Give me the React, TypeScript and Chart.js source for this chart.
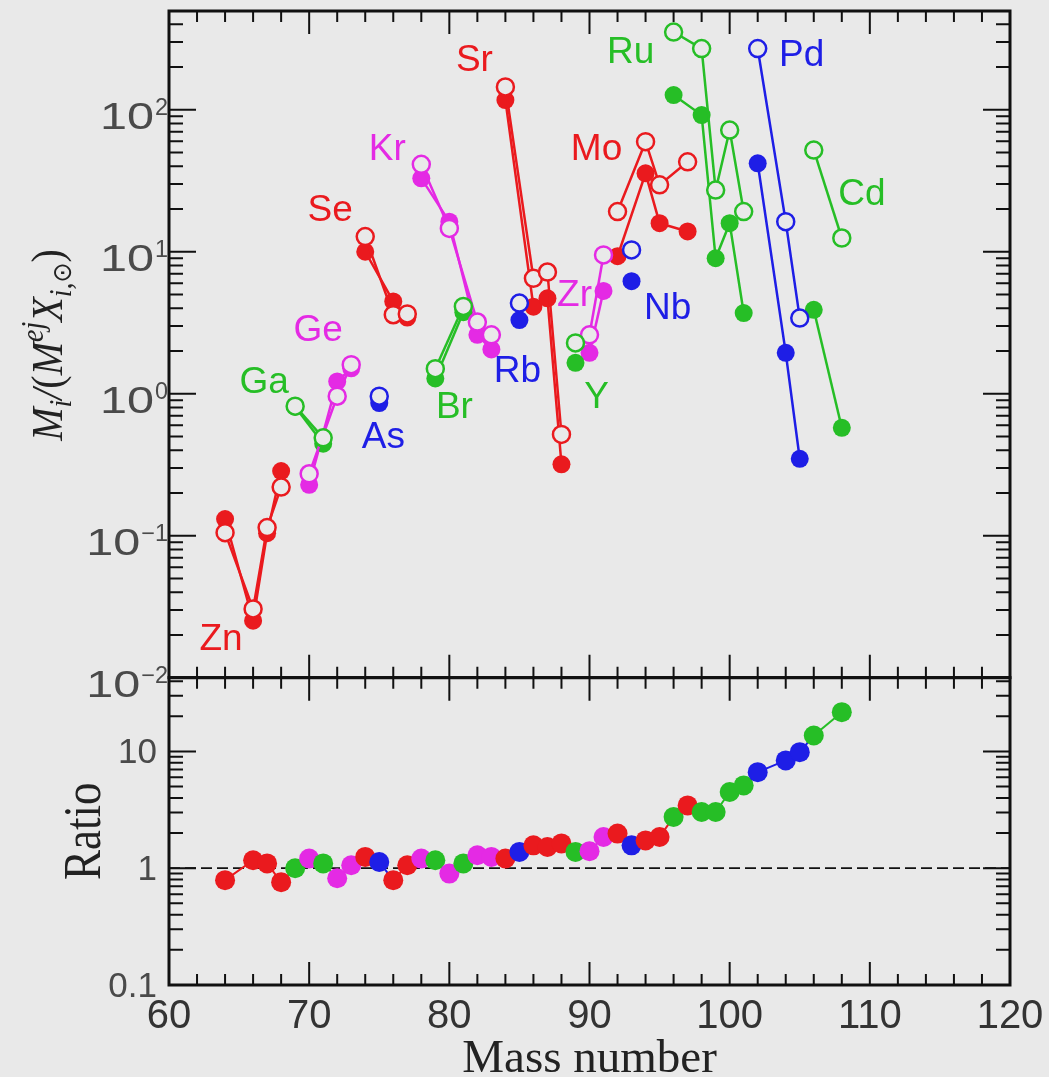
import React, { useEffect, useRef } from "react";
import { Chart, registerables } from "chart.js";

Chart.register(...registerables);

// ---------------- data ----------------
const ELEMENTS = ["Zn", "Ga", "Ge", "As", "Se", "Br", "Kr", "Rb", "Sr", "Y", "Zr", "Nb", "Mo", "Ru", "Pd", "Cd"];
const MASSES = [
  [64, 66, 67, 68], [69, 71], [70, 72, 73], [75], [74, 76, 77], [79, 81], [78, 80, 82, 83], [85],
  [84, 86, 87, 88], [89], [90, 91], [93], [92, 94, 95, 97], [96, 98, 99, 100, 101], [102, 104, 105], [106, 108],
];
const FILLED = [
  [0.131, 0.0252, 0.104, 0.285],
  [0.81, 0.445],
  [0.228, 1.22, 1.51],
  [0.86],
  [10.0, 4.47, 3.44],
  [1.28, 3.75],
  [32.9, 16.3, 2.6, 2.05],
  [3.3],
  [117, 4.1, 4.7, 0.318],
  [1.65],
  [1.94, 5.3],
  [6.2],
  [9.3, 35.7, 15.9, 13.9],
  [127, 91.8, 9.0, 15.9, 3.7],
  [42, 1.94, 0.348],
  [3.9, 0.575],
];
const OPEN = [
  [0.105, 0.0305, 0.114, 0.22],
  [0.817, 0.489],
  [0.273, 0.96, 1.6],
  [0.96],
  [12.8, 3.6, 3.65],
  [1.5, 4.12],
  [41.3, 14.6, 3.2, 2.6],
  [4.35],
  [145, 6.5, 7.2, 0.517],
  [2.28],
  [2.6, 9.5],
  [10.3],
  [19.2, 59.6, 29.6, 43],
  [353, 270, 27.2, 72, 19.2],
  [270, 16.3, 3.41],
  [52, 12.5],
];

const RATIO_MASS = [64, 66, 67, 68, 69, 70, 71, 72, 73, 74, 75, 76, 77, 78, 79, 80, 81, 82, 83, 84, 85, 86, 87, 88, 89, 90, 91, 92, 93, 94, 95, 96, 97, 98, 99, 100, 101, 102, 104, 105, 106, 108];
const RATIO_ELEMENT = ["Zn", "Zn", "Zn", "Zn", "Ga", "Ge", "Ga", "Ge", "Ge", "Se", "As", "Se", "Se", "Kr", "Br", "Kr", "Br", "Kr", "Kr", "Sr", "Rb", "Sr", "Sr", "Sr", "Y", "Zr", "Zr", "Mo", "Nb", "Mo", "Mo", "Ru", "Mo", "Ru", "Ru", "Ru", "Ru", "Pd", "Pd", "Pd", "Cd", "Cd"];
const RATIO_VALUE = [0.79, 1.17, 1.10, 0.76, 1.00, 1.21, 1.10, 0.82, 1.06, 1.25, 1.13, 0.79, 1.06, 1.21, 1.17, 0.90, 1.10, 1.29, 1.25, 1.21, 1.38, 1.57, 1.52, 1.63, 1.38, 1.40, 1.85, 1.98, 1.57, 1.73, 1.85, 2.75, 3.45, 3.03, 3.03, 4.49, 5.12, 6.65, 8.38, 9.86, 13.7, 21.7];

// tick labels
const X_TICKS = [60, 70, 80, 90, 100, 110, 120];
const TOP_EXPONENTS = [-2, -1, 0, 1, 2];
const RATIO_TICKS = [0.1, 1, 10];
const RATIO_TICK_LABELS = ["0.1", "1", "10"];
const X_TITLE = "Mass number";
const RATIO_TITLE = "Ratio";

// element label anchors (data coordinates)
const LABEL_MASS = [63.71, 66.79, 70.64, 75.29, 71.5, 80.36, 75.57, 84.86, 81.79, 90.5, 88.93, 95.57, 90.5, 92.93, 105.14, 109.43];
const LABEL_VALUE = [0.0185, 1.2, 2.79, 0.486, 19.5, 0.79, 52.3, 1.42, 221, 0.93, 4.92, 3.99, 52.3, 251, 240, 25.3];

// ---------------- styles ----------------
const BG = "#e9e9e9";
const RED = "#ea1a1e";
const GREEN = "#26be26";
const MAGENTA = "#e42ae4";
const BLUE = "#1e1ee6";
const COLOR: Record<string, string> = {
  Zn: RED, Ga: GREEN, Ge: MAGENTA, As: BLUE, Se: RED, Br: GREEN, Kr: MAGENTA, Rb: BLUE,
  Sr: RED, Y: GREEN, Zr: MAGENTA, Nb: BLUE, Mo: RED, Ru: GREEN, Pd: BLUE, Cd: GREEN,
};
const SANS = "'Liberation Sans', Arial, Helvetica, sans-serif";
const SERIF = "'Liberation Serif', 'Times New Roman', Times, serif";

function drawScaled(ctx: CanvasRenderingContext2D, text: string, x: number, y: number, font: string, sx: number, align: CanvasTextAlign = "left") {
  ctx.save();
  ctx.font = font;
  ctx.textAlign = align;
  ctx.textBaseline = "alphabetic";
  ctx.translate(x, y);
  ctx.scale(sx, 1);
  ctx.fillText(text, 0, 0);
  ctx.restore();
}

const figurePlugin = {
  id: "figure",
  beforeDraw(chart: any) {
    const { ctx, width, height } = chart;
    ctx.save();
    ctx.fillStyle = BG;
    ctx.fillRect(0, 0, width, height);
    ctx.restore();
  },
  beforeDatasetsDraw(chart: any) {
    const { ctx } = chart;
    const xs = chart.scales.x;
    const y2 = chart.scales.y2;
    const py = y2.getPixelForValue(1);
    ctx.save();
    ctx.strokeStyle = "#111";
    ctx.lineWidth = 1.8;
    ctx.setLineDash([11, 5]);
    ctx.beginPath();
    ctx.moveTo(xs.left, py);
    ctx.lineTo(xs.right, py);
    ctx.stroke();
    ctx.restore();
  },
  afterDraw(chart: any) {
    const { ctx } = chart;
    const xs = chart.scales.x;
    const panels = [chart.scales.y, chart.scales.y2];
    const left = xs.left;
    const right = xs.right;

    ctx.save();
    ctx.strokeStyle = "#111";
    // ticks
    ctx.lineWidth = 2;
    panels.forEach((s: any, pi: number) => {
      const top = s.top;
      const bot = s.bottom;
      ctx.beginPath();
      for (let v = 60; v <= 120; v += 2) {
        const px = xs.getPixelForValue(v);
        const len = v % 10 === 0 ? 23 : 11;
        ctx.moveTo(px, top);
        ctx.lineTo(px, top + len);
        ctx.moveTo(px, bot);
        ctx.lineTo(px, bot - len);
      }
      const lo = pi === 0 ? -2 : -1;
      const hi = pi === 0 ? 2 : 1;
      for (let d = lo; d <= hi; d++) {
        for (let k = 1; k <= 9; k++) {
          const v = k * Math.pow(10, d);
          if (v < s.min * 0.999 || v > s.max * 1.001) continue;
          const py = s.getPixelForValue(v);
          const len = k === 1 ? 27 : 14;
          ctx.moveTo(left, py);
          ctx.lineTo(left + len, py);
          ctx.moveTo(right, py);
          ctx.lineTo(right - len, py);
        }
      }
      ctx.stroke();
    });
    // frames
    ctx.lineWidth = 3;
    panels.forEach((s: any) => {
      ctx.strokeRect(left, s.top, right - left, s.bottom - s.top);
    });

    // top tick labels (powers of ten)
    const ys = chart.scales.y;
    ctx.fillStyle = "#4a4a4a";
    const baseFont = `36px ${SANS}`;
    const supFont = `23px ${SANS}`;
    TOP_EXPONENTS.forEach((e) => {
      const py = ys.getPixelForValue(Math.pow(10, e));
      const sup = e < 0 ? "\u2212" + String(-e) : String(e);
      ctx.font = baseFont;
      const wb = ctx.measureText("10").width * 1.35;
      ctx.font = supFont;
      const wsup = ctx.measureText(sup).width * 1.02;
      const x0 = 167 - wb - wsup;
      drawScaled(ctx, "10", x0, py + 19, baseFont, 1.35);
      drawScaled(ctx, sup, x0 + wb + 1, py + 5, supFont, 1.02);
    });

    // ratio tick labels
    const y2 = chart.scales.y2;
    RATIO_TICKS.forEach((v, i) => {
      const py = y2.getPixelForValue(v);
      drawScaled(ctx, RATIO_TICK_LABELS[i], 157, py + 12, `35px ${SANS}`, 1, "right");
    });

    // x tick labels
    ctx.fillStyle = "#333";
    X_TICKS.forEach((v) => {
      const px = xs.getPixelForValue(v);
      drawScaled(ctx, String(v), px, 1028, `40px ${SANS}`, 1, "center");
    });

    // x title
    ctx.fillStyle = "#222";
    drawScaled(ctx, X_TITLE, (left + right) / 2, 1072, `47px ${SERIF}`, 1, "center");

    // Ratio title (rotated)
    ctx.save();
    ctx.translate(100, (y2.top + y2.bottom) / 2);
    ctx.rotate(-Math.PI / 2);
    ctx.scale(1, 1.15);
    ctx.font = `45px ${SERIF}`;
    ctx.textAlign = "center";
    ctx.textBaseline = "alphabetic";
    ctx.fillText(RATIO_TITLE, 0, 0);
    ctx.restore();

    // y title: M_i/(M^ej X_{i,⊙})
    const runs = [
      { t: "M", f: `italic 40px ${SERIF}`, dy: 0 },
      { t: "i", f: `italic 28px ${SERIF}`, dy: 8 },
      { t: "/", f: `italic 40px ${SERIF}`, dy: 0 },
      { t: "(", f: `40px ${SERIF}`, dy: 0 },
      { t: "M", f: `italic 40px ${SERIF}`, dy: 0 },
      { t: "ej", f: `italic 28px ${SERIF}`, dy: -17 },
      { t: "X", f: `italic 40px ${SERIF}`, dy: 0 },
      { t: "i,", f: `italic 28px ${SERIF}`, dy: 8 },
      { t: "\u2299", f: `24px 'DejaVu Sans', ${SANS}`, dy: 8 },
      { t: ")", f: `40px ${SERIF}`, dy: 0 },
    ];
    let total = 0;
    const widths = runs.map((r) => {
      ctx.font = r.f;
      const w = ctx.measureText(r.t).width;
      total += w;
      return w;
    });
    ctx.save();
    ctx.translate(62, 345);
    ctx.rotate(-Math.PI / 2);
    ctx.scale(1, 1.1);
    ctx.fillStyle = "#222";
    ctx.textAlign = "left";
    ctx.textBaseline = "alphabetic";
    let cx = -total / 2;
    runs.forEach((r, i) => {
      ctx.font = r.f;
      ctx.fillText(r.t, cx, r.dy);
      cx += widths[i];
    });
    ctx.restore();

    // element labels
    ELEMENTS.forEach((el, i) => {
      const px = xs.getPixelForValue(LABEL_MASS[i]);
      const py = ys.getPixelForValue(LABEL_VALUE[i]);
      ctx.save();
      ctx.fillStyle = COLOR[el];
      ctx.font = `37px ${SANS}`;
      ctx.textAlign = "center";
      ctx.textBaseline = "middle";
      ctx.fillText(el, px, py);
      ctx.restore();
    });

    ctx.restore();
  },
};

export default function App() {
  const ref = useRef<HTMLCanvasElement>(null);

  useEffect(() => {
    const datasets: any[] = [];
    ELEMENTS.forEach((el, i) => {
      const c = COLOR[el];
      datasets.push({
        label: el + " filled",
        data: MASSES[i].map((m, j) => ({ x: m, y: FILLED[i][j] })),
        yAxisID: "y",
        borderColor: c,
        backgroundColor: c,
        borderWidth: 2.5,
        pointRadius: 9,
        pointBackgroundColor: c,
        pointBorderColor: c,
        pointBorderWidth: 0,
        order: 2,
      });
      datasets.push({
        label: el + " open",
        data: MASSES[i].map((m, j) => ({ x: m, y: OPEN[i][j] })),
        yAxisID: "y",
        borderColor: c,
        backgroundColor: BG,
        borderWidth: 2.5,
        pointRadius: 8.5,
        pointBackgroundColor: BG,
        pointBorderColor: c,
        pointBorderWidth: 2.5,
        order: 1,
      });
    });
    const ratioColors = RATIO_ELEMENT.map((e) => COLOR[e]);
    datasets.push({
      label: "ratio",
      data: RATIO_MASS.map((m, j) => ({ x: m, y: RATIO_VALUE[j] })),
      yAxisID: "y2",
      borderColor: "#888",
      borderWidth: 2,
      pointRadius: 10,
      pointBackgroundColor: ratioColors,
      pointBorderColor: ratioColors,
      pointBorderWidth: 0,
      segment: { borderColor: (ctx: any) => ratioColors[ctx.p0DataIndex] },
      order: 3,
    });

    const chart = new Chart(ref.current as HTMLCanvasElement, {
      type: "line",
      data: { datasets },
      options: {
        responsive: false,
        animation: false,
        events: [],
        layout: { padding: { left: 169, top: 9, right: 39, bottom: 92 } },
        plugins: { legend: { display: false }, tooltip: { enabled: false }, title: { display: false } },
        scales: {
          x: { type: "linear", min: 60, max: 120, display: false },
          y: {
            type: "logarithmic", min: 0.01, max: Math.pow(10, 2.696), display: false,
            position: "left", stack: "panels", stackWeight: 668, weight: 1,
          },
          y2: {
            type: "logarithmic", min: 0.1, max: Math.pow(10, 1.632), display: false,
            position: "left", stack: "panels", stackWeight: 308, weight: 0,
          },
        },
      } as any,
      plugins: [figurePlugin],
    });
    return () => chart.destroy();
  }, []);

  return (
    <div style={{ position: "fixed", left: 0, top: 0, width: 1049, height: 1077, background: BG }}>
      <canvas ref={ref} width={1049} height={1077} style={{ display: "block" }} />
    </div>
  );
}
